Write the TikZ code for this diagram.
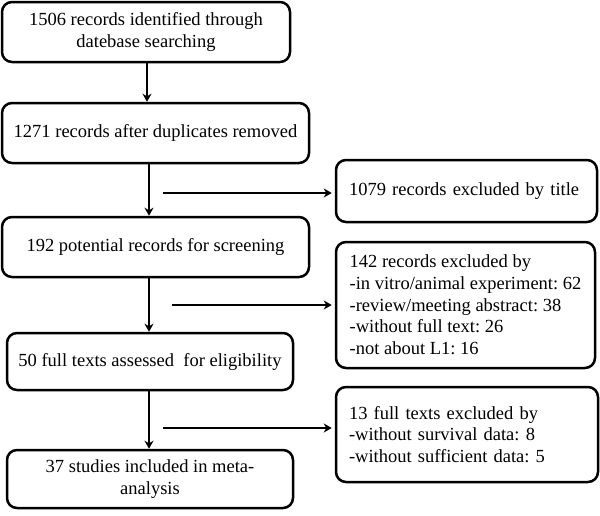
\documentclass[tikz,border=0pt]{standalone}
\usepackage{fontspec}
\setmainfont{Liberation Serif}
\usetikzlibrary{arrows.meta}
\frenchspacing
\begin{document}
\begin{tikzpicture}[x=1pt,y=-1pt,
  box/.style={draw, line width=2.5pt, rounded corners=10pt, align=center,
    font=\fontsize{18.5}{21.7}\selectfont, inner sep=0pt},
  sidebox/.style={box, align=left, inner xsep=13pt},
  arr/.style={line width=2.3pt, -{Stealth[length=8pt,width=9pt,inset=2.5pt]}}]
\useasboundingbox (0,0) rectangle (600,515);
\node[box, minimum width=288pt, minimum height=60pt] (b1) at (146,32)
  {1506 records identified through\\datebase searching};
\node[box, minimum width=307pt, minimum height=60pt] (b2) at (155.5,133)
  {1271 records after duplicates removed};
\node[box, minimum width=307pt, minimum height=60pt] (b3) at (155.5,247)
  {192 potential records for screening};
\node[box, minimum width=286pt, minimum height=57pt] (b4) at (150,361.5)
  {50 full texts assessed\ \ for eligibility};
\node[box, minimum width=286pt, minimum height=58pt] (b5) at (150,479)
  {37 studies included in meta-\\analysis};
\node[sidebox, text width=235pt, minimum height=62pt] (r1) at (466.5,191)
  {1079 records excluded by title};
\node[box, align=left, minimum width=259pt, minimum height=126pt] (r2) at (465.5,305)
  {142 records excluded by\\-in vitro/animal experiment: 62\\-review/meeting abstract: 38\\-without full text: 26\\-not about L1: 16};
\node[sidebox, text width=236pt, minimum height=95pt] (r3) at (467,434.5)
  {13 full texts excluded by\\-without survival data: 8\\-without sufficient data: 5};
\coordinate (s1) at (163,193);
\coordinate (s2) at (172,305);
\coordinate (s3) at (163,428);
\draw[arr] (b1.south -| 147,0) -- (b2.north -| 147,0);
\draw[arr] (b2.south -| 149,0) -- (b3.north -| 149,0);
\draw[arr] (b3.south -| 149,0) -- (b4.north -| 149,0);
\draw[arr] (b4.south -| 149,0) -- (b5.north -| 149,0);
\draw[arr, shorten >=3pt] (s1) -- (s1 -| r1.west);
\draw[arr, shorten >=3pt] (s2) -- (s2 -| r2.west);
\draw[arr, shorten >=3pt] (s3) -- (s3 -| r3.west);
\end{tikzpicture}
\end{document}
